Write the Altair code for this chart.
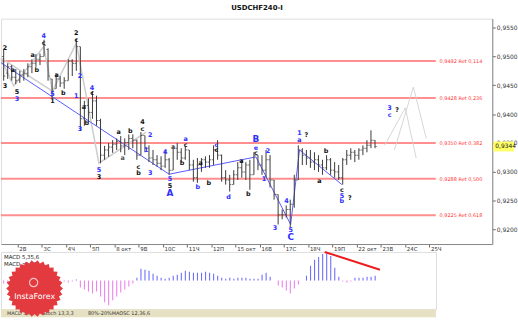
import math
import altair as alt
import pandas as pd

# ---------------- data (prices in pips, 0.xxxx * 10000) ----------------
high = [9512,9488,9485,9478,9475,9478,9488,9495,9504,9505,
        9529,9514,9461,9470,9466,9464,9495,9495,9531,9517,
        9423,9427,9440,9432,9392,9345,9350,9355,9358,9362,
        9358,9365,9365,9356,9369,9363,9346,9338,9329,9327,
        9338,9324,9346,9350,9341,9345,9338,9321,9324,9324,
        9327,9329,9346,9355,9330,9303,9295,9303,9317,9321,
        9317,9321,9334,9329,9329,9338,9329,9286,9261,9235,
        9242,9252,9295,9346,9341,9338,9338,9334,9329,9321,
        9329,9324,9317,9312,9324,9338,9341,9338,9341,9346,
        9355,9372,9355]
low = [9458,9461,9458,9452,9454,9458,9464,9471,9482,9485,
       9500,9458,9428,9444,9447,9444,9458,9466,9475,9372,
       9380,9386,9392,9380,9315,9321,9326,9333,9338,9334,
       9329,9338,9341,9321,9329,9334,9317,9312,9309,9303,
       9307,9295,9303,9321,9317,9321,9303,9283,9281,9300,
       9307,9307,9312,9321,9283,9278,9266,9278,9286,9290,
       9286,9269,9295,9303,9295,9290,9273,9252,9209,9218,
       9221,9204,9238,9286,9312,9312,9307,9303,9300,9295,
       9303,9295,9290,9286,9278,9312,9321,9317,9321,9329,
       9334,9341,9341]
opn = [9500,9471,9482,9464,9459,9468,9471,9482,9488,9495,
       9500,9512,9461,9444,9461,9454,9458,9492,9488,9517,
       9392,9415,9403,9423,9389,9329,9338,9343,9348,9353,
       9345,9351,9358,9355,9329,9363,9341,9324,9321,9315,
       9310,9321,9303,9341,9334,9324,9338,9312,9290,9312,
       9321,9317,9321,9338,9329,9290,9286,9278,9295,9307,
       9300,9312,9295,9329,9312,9303,9321,9286,9261,9226,
       9226,9235,9244,9286,9338,9329,9324,9317,9321,9312,
       9307,9321,9303,9300,9290,9321,9329,9334,9329,9338,
       9341,9346,9355]
cls = [9466,9482,9464,9458,9468,9471,9482,9488,9495,9500,
       9519,9466,9440,9461,9454,9458,9492,9488,9517,9392,
       9415,9403,9423,9389,9329,9338,9343,9348,9353,9345,
       9351,9358,9355,9329,9363,9341,9324,9321,9315,9310,
       9321,9303,9341,9334,9324,9338,9312,9290,9312,9321,
       9317,9321,9338,9329,9290,9286,9278,9295,9307,9300,
       9312,9295,9329,9312,9303,9321,9286,9261,9226,9226,
       9235,9244,9286,9338,9329,9324,9317,9321,9312,9307,
       9321,9303,9300,9290,9321,9329,9334,9329,9338,9341,
       9346,9355,9344]
# MACD histogram (units of 0.0001)
macd = [-3,-3,-3,-2,-2,-1,1,2,3,4,
        5,3,-1,-2,-2,-1,-2,-1,1,-7,
        -9,-11,-13,-11,-16,-22,-25,-20,-16,-12,
        -9,-6,-3,3,12,11,10,7,5,3,
        2,3,5,6,8,10,9,8,8,8,
        9,8,7,5,3,2,3,2,3,3,
        3,2,2,2,6,8,4,0,-5,-7,
        -10,-13,-8,-4,0,5,15,21,24,27,
        29,25,13,4,-1,-2,-1,3,3,3,
        4,4,5]

day_labels = ["2В","3С","4Ч","5П","8 окт","9В","10С","11Ч","12П","15 окт",
              "16В","17С","18Ч","19П","22 окт","23В","24С","25Ч"]
day_starts = [3.5 + 6 * d for d in range(len(day_labels))]
price_ticks = [9200, 9250, 9300, 9350, 9400, 9450, 9500, 9550]

fib_price = [9492, 9428, 9350, 9288, 9225]
fib_text = ["0,9492 Ret 0,114", "0,9428 Ret 0,236", "0,9350 Ret 0,382",
            "0,9288 Ret 0,500", "0,9225 Ret 0,618"]

# wave labels: bar position, price (pips), text, colour (b = blue, k = black, g = grey)
lab_t = [0.3,0.3,2.3,3.3,3.3,7.2,8.2,9.9,9.9,12.1,12.1,13.1,14.8,18.0,18.0,18.9,18.0,21.9,21.9,19.9,
         20.6,18.9,23.6,23.6,28.5,29.5,31.4,34.4,34.4,36.3,35.3,33.4,33.4,36.3,40.0,41.2,41.2,41.2,45.1,42.0,
         44.2,45.1,48.1,48.8,50.8,52.7,52.7,55.7,58.9,60.6,62.5,62.5,62.5,65.5,64.5,67.2,70.1,71.1,71.1,73.3,
         73.3,75.0,79.9,78.2,83.8,83.8,83.8,85.8,95.6,95.6,97.5]
lab_p = [9514,9449,9476,9439,9427,9502,9476,9535,9524,9435,9423,9468,9437,9540,9529,9466,9432,9446,9437,9413,
         9384,9375,9303,9291,9369,9324,9370,9386,9374,9363,9338,9309,9298,9298,9334,9288,9276,9264,9357,9343,
         9315,9346,9273,9315,9281,9346,9338,9257,9319,9262,9357,9341,9333,9336,9288,9202,9250,9199,9187,9367,
         9355,9363,9336,9285,9269,9259,9249,9254,9411,9399,9408]
lab_s = ["2","3","a","5","3","a","b","4","c","5","1","a","b","2","c","2","1","4","c","a",
         "b","3","5","3","a","a","b","4","c","2","1","c","b","3","4","5","5","A","a","a",
         "b","c","b","a","b","c","c","d","a","b","B","e","c","2","1","3","4","5","C","1",
         "a","?","b","a","c","5","b","?","3","c","?"]
lab_c = ["k","k","k","k","b","k","k","b","k","b","k","k","k","k","k","b","b","b","k","k",
         "k","b","b","k","k","g","k","k","k","b","b","k","k","b","b","b","k","b","b","g",
         "k","k","b","k","k","b","k","b","k","k","b","b","k","b","b","b","b","b","b","b",
         "b","k","k","k","k","b","b","k","b","b","k"]

# wave lines (bar position, price)
gray_seg = [1, 1, 1, 1, 1, 1, 1, 2, 2]
gray_t = [-0.66, 2.5, 9.9, 12.1, 18.0, 23.6, 35.3, -0.66, 12.1]
gray_p = [9495, 9449, 9517, 9440, 9523, 9315, 9369, 9497, 9440]
blue_seg = [1, 1, 1, 1, 1, 1]
blue_t = [-0.66, 41.0, 62.5, 71.1, 73.3, 83.8]
blue_p = [9489, 9296, 9326, 9209, 9338, 9278]
proj_seg = [1, 1, 1, 2, 2, 2]
proj_t = [94.4, 99.5, 102.2, 96.8, 101.5, 104.7]
proj_p = [9346, 9411, 9324, 9338, 9447, 9358]
macd_red_t = [79.5, 93.2]
macd_red_v = [29, 11]
last_price = 9344

# ---------------- frames ----------------
bars = pd.DataFrame({"t": list(range(len(high))),
                     "high": [v / 1e4 for v in high], "low": [v / 1e4 for v in low],
                     "open": [v / 1e4 for v in opn], "close": [v / 1e4 for v in cls]})
hist = pd.DataFrame({"t": list(range(len(macd))), "v": [v / 1e4 for v in macd], "z": 0.0})
fib = pd.DataFrame({"p": [v / 1e4 for v in fib_price], "txt": fib_text,
                    "x0": -0.661, "x1": 107.06, "xt": 108.0})
colmap = {"b": "#2f2fff", "k": "#111111", "g": "#555555"}
labs = pd.DataFrame({"t": lab_t, "p": [v / 1e4 for v in lab_p], "s": lab_s,
                     "c": [colmap[c] for c in lab_c]})
labs["fs"] = [9 if s in ("A", "B", "C") else 6.5 for s in lab_s]
gray = pd.DataFrame({"t": gray_t, "p": [v / 1e4 for v in gray_p], "seg": gray_seg,
                     "o": list(range(len(gray_t)))})
blue = pd.DataFrame({"t": blue_t, "p": [v / 1e4 for v in blue_p], "seg": blue_seg,
                     "o": list(range(len(blue_t)))})
proj = pd.DataFrame({"t": proj_t, "p": [v / 1e4 for v in proj_p], "seg": proj_seg,
                     "o": list(range(len(proj_t)))})
red = pd.DataFrame({"t": macd_red_t, "v": [v / 1e4 for v in macd_red_v]})
lastdf = pd.DataFrame({"p": [last_price / 1e4], "p1": [last_price / 1e4 - 0.00085],
                       "p2": [last_price / 1e4 + 0.00085], "txt": ["0,9344"]})

FONT = "DejaVu Sans"
xs = alt.Scale(domain=[-0.661, 121.06], nice=False, zero=False)
ys = alt.Scale(domain=[0.91751, 0.95654], nice=False, zero=False)

lab_expr = "[" + ",".join("'%s'" % s for s in day_labels) + "][round((datum.value-3.5)/6)]"
AX = alt.Axis(values=day_starts, labelExpr=lab_expr, title=None, grid=False, labelAlign="left",
              labelOffset=1, labelFontSize=5.5, labelFont=FONT, tickSize=3, labelPadding=0,
              domainColor="#888", tickColor="#666", labelColor="#333")
AY = alt.Axis(orient="right", values=[v / 1e4 for v in price_ticks],
              labelExpr="replace(format(datum.value,'.4f'),'.',',')", title=None, grid=False,
              labelFontSize=6, labelFont=FONT, tickSize=3, labelPadding=1, domainColor="#888",
              tickColor="#666", labelColor="#333")


def XQ(f):
    return alt.X(f, type="quantitative", scale=xs, axis=AX)


def YQ(f):
    return alt.Y(f, type="quantitative", scale=ys, axis=AY)


fib_lines = alt.Chart(fib).mark_rule(color="#ff7b7b", strokeWidth=2, opacity=0.85).encode(
    x=XQ("x0"), x2="x1", y=YQ("p"))
fib_txt = alt.Chart(fib).mark_text(align="left", baseline="middle", fontSize=5, font=FONT,
                                   color="#ff3030").encode(x=XQ("xt"), y=YQ("p"), text="txt:N")

gray_line = alt.Chart(gray).mark_line(color="#cdcdcd", strokeWidth=1.5).encode(
    x=XQ("t"), y=YQ("p"), detail="seg:N", order="o:Q")
proj_line = alt.Chart(proj).mark_line(color="#d6d6d6", strokeWidth=1).encode(
    x=XQ("t"), y=YQ("p"), detail="seg:N", order="o:Q")
blue_line = alt.Chart(blue).mark_line(color="#5a5aff", strokeWidth=1).encode(
    x=XQ("t"), y=YQ("p"), detail="seg:N", order="o:Q")

BARC = "#3a3a3a"
wick = alt.Chart(bars).mark_rule(color=BARC, strokeWidth=1).encode(
    x=XQ("t"), y=YQ("low"), y2="high")
otick = alt.Chart(bars).mark_tick(color=BARC, orient="horizontal", size=1.5, thickness=1,
                                  xOffset=-1).encode(x=XQ("t"), y=YQ("open"))
ctick = alt.Chart(bars).mark_tick(color=BARC, orient="horizontal", size=1.5, thickness=1,
                                  xOffset=1).encode(x=XQ("t"), y=YQ("close"))

wave_txt = alt.Chart(labs).mark_text(fontWeight="bold", font=FONT, baseline="middle").encode(
    x=XQ("t"), y=YQ("p"), text="s:N", color=alt.Color("c:N", scale=None),
    size=alt.Size("fs:Q", scale=None))

last_box = alt.Chart(lastdf).mark_rect(color="#ffff66").encode(
    x=alt.value(498), x2=alt.value(519), y=YQ("p1"), y2="p2")
last_txt = alt.Chart(lastdf).mark_text(align="left", baseline="middle", fontSize=6, font=FONT,
                                       color="#111").encode(x=alt.value(500), y=YQ("p"), text="txt:N")
title_txt = alt.Chart(lastdf).mark_text(fontSize=7, fontWeight="bold", font=FONT, baseline="top",
                                        color="#111").encode(
    x=alt.value(259), y=alt.value(-15), text=alt.value("USDCHF240-I"))

main = alt.layer(fib_lines, fib_txt, gray_line, proj_line, blue_line, wick, otick, ctick,
                 wave_txt, last_box, last_txt, title_txt).properties(width=497, height=228)

# ---------------- MACD panel ----------------
mxs = alt.Scale(domain=[-0.661, 107.06], nice=False, zero=False)
mys = alt.Scale(domain=[-0.0029, 0.0029], nice=False, zero=False)
hbar = alt.Chart(hist).mark_rule(strokeWidth=1.1).encode(
    x=alt.X("t:Q", scale=mxs, axis=None), y=alt.Y("v:Q", scale=mys, axis=None), y2="z:Q",
    color=alt.condition("datum.v > 0", alt.value("#6e6eff"), alt.value("#ee82ee")))
redl = alt.Chart(red).mark_line(color="#ee1c1c", strokeWidth=2).encode(
    x=alt.X("t:Q", scale=mxs, axis=None), y=alt.Y("v:Q", scale=mys, axis=None))
tabs = alt.Chart(lastdf).mark_rect(color="#e6e1c3").encode(
    x=alt.value(0), x2=alt.value(440), y=alt.value(58), y2=alt.value(66))


def small_text(txt, xp, yp, color="#222", size=5.5):
    return alt.Chart(lastdf).mark_text(align="left", baseline="middle", fontSize=size, font=FONT,
                                       color=color).encode(x=alt.value(xp), y=alt.value(yp),
                                                           text=alt.value(txt))


tab1 = small_text("MACD 5,35,6", 6, 62, "#333", 5)
tab2 = small_text("Stoch 13,3,3", 42, 62, "#333", 5)
tab3 = small_text("80%-20%", 88, 62, "#333", 5)
tab4 = small_text("MAOSC 12,36,6", 112, 62, "#333", 5)
leg1 = small_text("MACD 5,35,6", 3, 5)
leg2 = small_text("MACD =", 3, 12)
leg3 = small_text("0,00", 24, 12, "#2b2bff")

# InstaForex badge (star-burst)
n = 30
pts = []
for k in range(2 * n):
    r = 1.0 if k % 2 == 0 else 0.9
    a = math.pi * k / n
    pts.append("%.3f,%.3f" % (r * math.cos(a), r * math.sin(a)))
star = "M" + " L".join(pts) + " Z"
badge = alt.Chart(lastdf).mark_point(shape=star, filled=True, color="#e23a3f", opacity=1).encode(
    x=alt.value(34), y=alt.value(37), size=alt.value(3300))
ring = alt.Chart(lastdf).mark_point(shape="circle", filled=False, color="white", strokeWidth=1.2).encode(
    x=alt.value(33), y=alt.value(31), size=alt.value(70))
badge_txt = alt.Chart(lastdf).mark_text(fontSize=8, font=FONT, color="white", baseline="middle").encode(
    x=alt.value(34), y=alt.value(46), text=alt.value("InstaForex"))

macdp = alt.layer(tabs, tab1, tab2, tab3, tab4, hbar, redl, leg1, leg2, leg3, badge, ring,
                  badge_txt).properties(width=440, height=58)

chart = alt.vconcat(main, macdp, spacing=8, bounds="flush").properties(
    padding={"left": -3, "top": 1, "right": 0, "bottom": 0}
).configure_view(stroke="#8a8a8a", strokeWidth=1).configure(background="white")

chart.save("out.html", embed_options={"renderer": "svg", "actions": False})
